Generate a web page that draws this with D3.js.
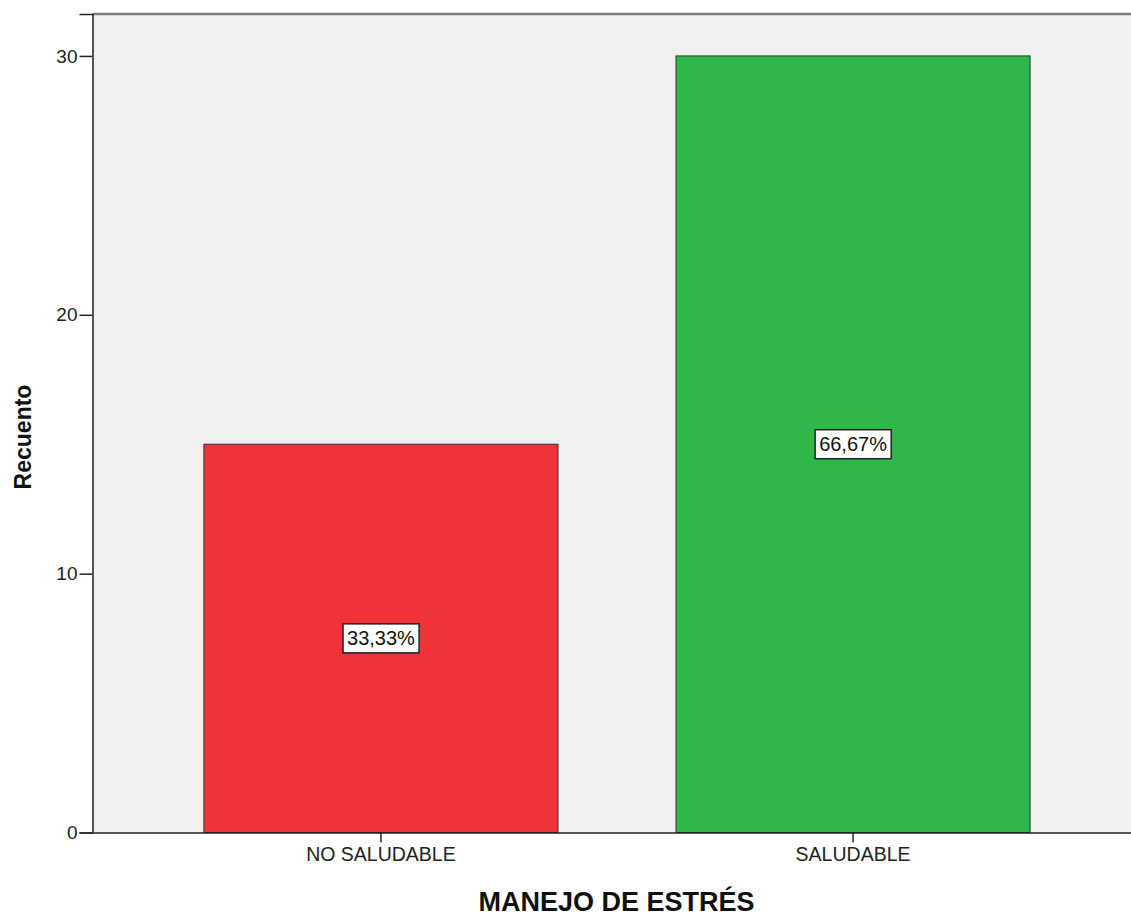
<!DOCTYPE html>
<html><head><meta charset="utf-8">
<script src="https://cdn.jsdelivr.net/npm/d3@7"></script>
<style>body{margin:0;background:#fff}svg{display:block}text{font-family:"Liberation Sans",Arial,sans-serif}</style>
</head><body>
<script>
const categories = ["NO SALUDABLE", "SALUDABLE"];
const counts = [15, 30];
const percentLabels = ["33,33%", "66,67%"];
const yTicks = [0, 10, 20, 30];
const barColors = ["#f0323a", "#2eb84b"];
const xTitle = "MANEJO DE ESTRÉS";
const yTitle = "Recuento";

const W = 1131, H = 916;
const pL = 92.5, pR = 1141.5, pT = 14, pB = 832.5;
const svg = d3.select("body").append("svg").attr("width", W).attr("height", H);

const x = d3.scaleBand().domain(categories).range([pL, pR]).paddingInner(0.25).paddingOuter(0.236);
const y = d3.scaleLinear().domain([0, 31.62]).range([pB, pT]);

svg.append("rect").attr("x", pL).attr("y", pT).attr("width", pR - pL).attr("height", pB - pT).attr("fill", "#f0f0f0");
svg.append("line").attr("x1", pL).attr("x2", pR).attr("y1", pT).attr("y2", pT).attr("stroke", "#7a7a7a").attr("stroke-width", 2.5);

svg.selectAll("rect.bar").data(categories).enter().append("rect").attr("class", "bar")
  .attr("x", d => x(d)).attr("width", x.bandwidth())
  .attr("y", (d, i) => y(counts[i])).attr("height", (d, i) => y(0) - y(counts[i]))
  .attr("fill", (d, i) => barColors[i]).attr("stroke", "#333").attr("stroke-width", 1);

const yAxis = svg.append("g").attr("transform", `translate(${pL},0)`)
  .call(d3.axisLeft(y).tickValues(yTicks).tickSize(13).tickPadding(2).tickFormat(d3.format("d")));
yAxis.select(".domain").attr("stroke", "#222").attr("stroke-width", 1.5);
yAxis.selectAll(".tick line").attr("stroke", "#222").attr("stroke-width", 1.5);
yAxis.selectAll("text").attr("font-size", 19).attr("fill", "#222");

const xAxis = svg.append("g").attr("transform", `translate(0,${pB})`)
  .call(d3.axisBottom(x).tickSize(10).tickPadding(5).tickSizeOuter(0));
xAxis.select(".domain").attr("stroke", "#222").attr("stroke-width", 1.5);
xAxis.selectAll(".tick line").attr("stroke", "#222").attr("stroke-width", 1.5);
xAxis.selectAll("text").attr("font-size", 19.5).attr("fill", "#222");

categories.forEach((c, i) => {
  const cx = x(c) + x.bandwidth() / 2, cy = y(counts[i] / 2);
  const g = svg.append("g");
  const t = g.append("text").attr("x", cx).attr("y", cy + 7).attr("text-anchor", "middle")
    .attr("font-size", 20).attr("fill", "#111").text(percentLabels[i]);
  const bb = t.node().getBBox();
  g.insert("rect", "text").attr("x", bb.x - 4).attr("y", cy - 14.5).attr("width", bb.width + 8).attr("height", 29)
    .attr("fill", "#fff").attr("stroke", "#222").attr("stroke-width", 1.5);
});

svg.append("text").attr("x", 616.5).attr("y", 911).attr("text-anchor", "middle")
  .attr("font-size", 27).attr("font-weight", "bold").attr("fill", "#111").text(xTitle);
svg.append("text").attr("transform", `translate(31,437) rotate(-90)`).attr("text-anchor", "middle")
  .attr("font-size", 23).attr("font-weight", "bold").attr("fill", "#111").text(yTitle);
</script>
</body></html>
